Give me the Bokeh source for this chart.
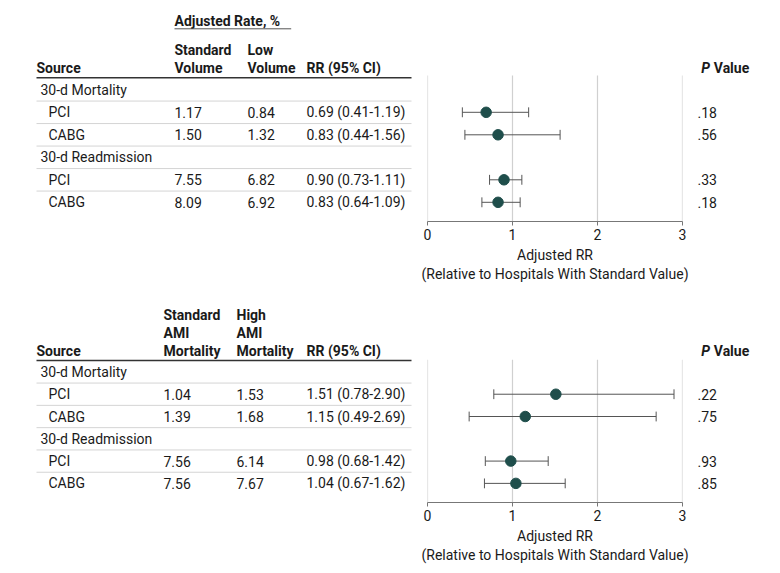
from bokeh.plotting import figure
from bokeh.layouts import row, column
from bokeh.models import Range1d, FixedTicker
from bokeh.core.properties import value
from bokeh.embed import file_html
from bokeh.resources import INLINE

# ---------------- data ----------------
groups = ["30-d Mortality", "30-d Readmission"]
procedures = ["PCI", "CABG", "PCI", "CABG"]

vol_std = [1.17, 1.50, 7.55, 8.09]
vol_low = [0.84, 1.32, 6.82, 6.92]
vol_rr = [0.69, 0.83, 0.90, 0.83]
vol_lo = [0.41, 0.44, 0.73, 0.64]
vol_hi = [1.19, 1.56, 1.11, 1.09]
vol_p = [".18", ".56", ".33", ".18"]

ami_std = [1.04, 1.39, 7.56, 7.56]
ami_high = [1.53, 1.68, 6.14, 7.67]
ami_rr = [1.51, 1.15, 0.98, 1.04]
ami_lo = [0.78, 0.49, 0.68, 0.67]
ami_hi = [2.90, 2.69, 1.42, 1.62]
ami_p = [".22", ".75", ".93", ".85"]

rr_ticks = [0, 1, 2, 3]
axis_title = "Adjusted RR\n(Relative to Hospitals With Standard Value)"

# ---------------- style ----------------
FNAME = "Roboto"
FONT = value(FNAME)
FS = "14px"
TXT = "#1a1a1a"
SEP = "#d4d4d4"
GRID = "#d0d0d0"
DOT = "#1f4e4b"
BAR = "#555555"
PITCH = 22.5

group_rows = [0, 3]
item_rows = [1, 2, 4, 5]


def panel(top_px, row0_px, axis_px, bottom_px, grid_top_px, thick_px,
          col_headers, col_x, std, alt, rr, lo, hi, pv, extra_header=False):
    to_r = lambda px: (px - row0_px) / PITCH
    H = bottom_px - top_px
    bb = bottom_px - axis_px

    def base(w, xr, axis=False, ml=0, mr=0):
        f = figure(width=w, height=H, x_range=xr,
                   y_range=Range1d(to_r(axis_px), to_r(top_px)),
                   output_backend="svg", toolbar_location=None,
                   min_border_left=ml, min_border_right=mr, min_border_top=0,
                   min_border_bottom=bb,
                   x_axis_location="below" if axis else None,
                   y_axis_location=None, outline_line_color=None)
        f.grid.visible = False
        f.background_fill_color = None
        f.border_fill_color = "white"
        return f

    def txt(f, xs, ys, texts, bold=False, style=None):
        f.text(x=xs, y=ys, text=texts, text_font=FONT, text_font_size=FS,
               text_color=TXT, text_baseline="middle", text_align="left",
               text_font_style=style or ("bold" if bold else "normal"))

    # ---- table ----
    t = base(417, Range1d(0, 417))
    t.segment(x0=[36] * 5, y0=[r + 0.5 for r in range(5)], x1=[411] * 5,
              y1=[r + 0.5 for r in range(5)], line_color=SEP, line_width=1)
    t.segment(x0=[36], y0=[to_r(thick_px)], x1=[411], y1=[to_r(thick_px)],
              line_color="#333333", line_width=1.6)
    last = to_r(col_headers[0][-1][1])
    txt(t, [36], [last], ["Source"], bold=True)
    txt(t, [306], [last], ["RR (95% CI)"], bold=True)
    for ci, lines in enumerate(col_headers):
        txt(t, [col_x[ci]] * len(lines), [to_r(py) for _, py in lines],
            [s for s, _ in lines], bold=True)
    if extra_header:
        txt(t, [col_x[0]], [to_r(20)], ["Adjusted Rate, %"], bold=True)
        t.segment(x0=[col_x[0]], y0=[to_r(28.3)], x1=[290.7], y1=[to_r(28.3)],
                  line_color="#555555", line_width=1)
    txt(t, [40, 40], group_rows, groups)
    txt(t, [48] * 4, item_rows, procedures)
    txt(t, [col_x[0]] * 4, item_rows, [f"{v:.2f}" for v in std])
    txt(t, [col_x[1]] * 4, item_rows, [f"{v:.2f}" for v in alt])
    txt(t, [306] * 4, item_rows,
        [f"{a:.2f} ({b:.2f}-{c:.2f})" for a, b, c in zip(rr, lo, hi)])

    # ---- forest ----
    f = base(275, Range1d(0, 3), axis=True, ml=10, mr=10)
    gt = to_r(grid_top_px)
    ab = to_r(axis_px)
    f.segment(x0=rr_ticks, y0=[gt] * 4, x1=rr_ticks, y1=[ab] * 4,
              line_color=GRID, line_width=1.2)
    f.segment(x0=lo, y0=item_rows, x1=hi, y1=item_rows, line_color=BAR, line_width=1)
    cap = 0.22
    f.segment(x0=lo, y0=[r - cap for r in item_rows], x1=lo,
              y1=[r + cap for r in item_rows], line_color=BAR, line_width=1)
    f.segment(x0=hi, y0=[r - cap for r in item_rows], x1=hi,
              y1=[r + cap for r in item_rows], line_color=BAR, line_width=1)
    f.scatter(x=rr, y=item_rows, size=10.5, fill_color=DOT, line_color=DOT)
    ax = f.xaxis[0]
    ax.ticker = FixedTicker(ticks=rr_ticks)
    ax.minor_tick_line_color = None
    ax.major_tick_in = 0
    ax.major_tick_out = 4
    ax.axis_line_color = "#777777"
    ax.major_tick_line_color = "#777777"
    ax.major_label_text_font = FNAME
    ax.major_label_text_font_size = FS
    ax.major_label_text_color = TXT
    ax.major_label_standoff = 3
    ax.axis_label = axis_title
    ax.axis_label_text_font = FNAME
    ax.axis_label_text_font_size = FS
    ax.axis_label_text_font_style = "normal"
    ax.axis_label_text_color = TXT
    ax.axis_label_text_line_height = 1.2
    ax.axis_label_standoff = 4

    # ---- p values ----
    p = base(80, Range1d(692, 772))
    txt(p, [700.7], [last], ["P"], style="bold italic")
    txt(p, [713.3], [last], ["Value"], bold=True)
    txt(p, [697] * 4, item_rows, pv)

    return row(t, f, p)


top = panel(0, 89.3, 221, 290, 75, 77.3,
            [[("Standard", 49.3), ("Volume", 67.7)], [("Low", 49.3), ("Volume", 67.7)]],
            [174, 247], vol_std, vol_low, vol_rr, vol_lo, vol_hi, vol_p,
            extra_header=True)
bottom = panel(290, 372.2, 504, 565, 360, 360.7,
               [[("Standard", 315), ("AMI", 332.7), ("Mortality", 350.7)],
                [("High", 315), ("AMI", 332.7), ("Mortality", 350.7)]],
               [163, 236], ami_std, ami_high, ami_rr, ami_lo, ami_hi, ami_p)

layout = column(top, bottom)
open("out.html", "w").write(file_html(layout, INLINE))
